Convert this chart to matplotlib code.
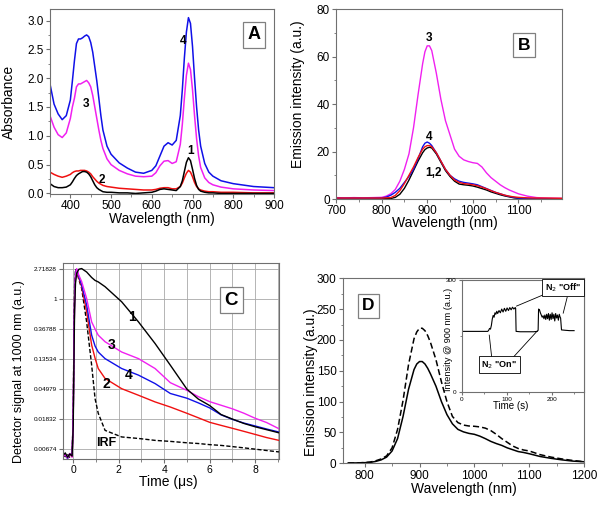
import matplotlib
matplotlib.use("Agg")
import matplotlib.pyplot as plt
from matplotlib.ticker import MultipleLocator, NullLocator, FixedLocator

plt.rcParams["font.family"] = ["Liberation Sans", "DejaVu Sans"]

SPINE = "#707070"
BLUE = "#1010e8"
MAGENTA = "#f020f0"
RED = "#f01010"

# ---- panel A: absorbance ----
wl_a = [350, 360, 370, 380, 390, 400, 405, 410, 415, 420, 425, 430, 435, 440, 445,
        450, 455, 460, 465, 470, 475, 480, 490, 500, 520, 540, 560, 580, 600, 610,
        620, 630, 640, 650, 660, 670, 675, 680, 685, 690, 695, 700, 705, 710, 715,
        720, 730, 740, 750, 770, 800, 850, 900]
abs_4 = [1.90, 1.55, 1.38, 1.28, 1.35, 1.62, 1.95, 2.30, 2.60, 2.68, 2.68, 2.70, 2.73, 2.75, 2.72,
         2.62, 2.45, 2.20, 1.95, 1.65, 1.35, 1.10, 0.82, 0.68, 0.53, 0.44, 0.37, 0.35, 0.40, 0.48,
         0.65, 0.82, 0.88, 0.84, 0.92, 1.35, 1.80, 2.35, 2.80, 3.05, 2.95, 2.55, 2.00, 1.50, 1.10,
         0.82, 0.52, 0.37, 0.30, 0.22, 0.17, 0.12, 0.10]
abs_3 = [1.35, 1.15, 1.02, 0.97, 1.05, 1.30, 1.50, 1.65, 1.85, 1.90, 1.90, 1.92, 1.94, 1.96, 1.92,
         1.85, 1.70, 1.50, 1.30, 1.10, 0.92, 0.78, 0.60, 0.50, 0.40, 0.34, 0.30, 0.29, 0.30, 0.36,
         0.48, 0.56, 0.57, 0.52, 0.55, 0.85, 1.20, 1.65, 2.05, 2.26, 2.15, 1.80, 1.35, 0.95, 0.65,
         0.45, 0.27, 0.19, 0.15, 0.11, 0.08, 0.06, 0.05]
abs_1 = [0.17, 0.12, 0.10, 0.10, 0.11, 0.15, 0.20, 0.26, 0.31, 0.34, 0.36, 0.38, 0.38, 0.37, 0.34,
         0.29, 0.22, 0.15, 0.10, 0.07, 0.05, 0.03, 0.02, 0.02, 0.01, 0.01, 0.00, 0.01, 0.02, 0.04,
         0.07, 0.08, 0.07, 0.06, 0.05, 0.12, 0.22, 0.38, 0.54, 0.62, 0.57, 0.42, 0.26, 0.14, 0.07,
         0.04, 0.02, 0.01, 0.01, 0.00, 0.00, 0.00, 0.00]
abs_2 = [0.37, 0.33, 0.30, 0.28, 0.30, 0.33, 0.36, 0.38, 0.39, 0.39, 0.40, 0.40, 0.40, 0.39, 0.37,
         0.34, 0.29, 0.25, 0.21, 0.18, 0.16, 0.14, 0.12, 0.11, 0.09, 0.08, 0.07, 0.06, 0.06, 0.07,
         0.09, 0.10, 0.10, 0.08, 0.08, 0.12, 0.18, 0.27, 0.35, 0.40, 0.37, 0.29, 0.19, 0.12, 0.08,
         0.06, 0.04, 0.03, 0.03, 0.02, 0.02, 0.01, 0.01]

# ---- panel B: emission ----
wl_b = [700, 720, 740, 760, 780, 800, 810, 820, 830, 840, 850, 860, 870, 880, 890, 895,
        900, 905, 910, 920, 930, 940, 950, 960, 970, 980, 990, 1000, 1010, 1020, 1030,
        1040, 1050, 1060, 1070, 1080, 1090, 1100, 1120, 1140, 1160, 1195]
em_3 = [0.6, 0.5, 0.6, 0.5, 0.6, 0.7, 1.2, 2.2, 4.0, 7.5, 12.5, 19.0, 30.0, 44.0, 57.0, 62.0,
        64.5, 64.5, 62.5, 53.0, 42.0, 33.0, 27.0, 21.0, 18.0, 16.5, 15.8, 15.3, 15.0, 13.5, 11.0,
        9.0, 7.5, 6.0, 4.8, 3.8, 3.0, 2.2, 1.2, 0.6, 0.4, 0.3]
em_4 = [0.3, 0.3, 0.3, 0.3, 0.3, 0.4, 0.8, 1.6, 2.8, 4.5, 7.0, 9.5, 12.5, 17.0, 22.0, 23.5,
        24.0, 23.5, 22.5, 19.5, 16.0, 12.5, 10.0, 8.5, 7.5, 7.0, 6.7, 6.4, 6.0, 5.2, 4.4,
        3.6, 2.8, 2.2, 1.6, 1.1, 0.7, 0.4, 0.2, 0.1, 0.1, 0.1]
em_2 = [0.4, 0.4, 0.4, 0.4, 0.4, 0.4, 0.5, 0.6, 1.5, 3.5, 6.5, 10.0, 13.5, 17.5, 21.0, 22.0,
        22.5, 22.5, 22.0, 19.5, 16.0, 12.5, 10.0, 8.0, 7.0, 6.5, 6.3, 6.0, 5.6, 5.0, 4.3,
        3.5, 2.8, 2.2, 1.6, 1.2, 0.9, 0.7, 0.5, 0.4, 0.4, 0.3]
em_1 = [0.2, 0.2, 0.2, 0.2, 0.2, 0.2, 0.2, 0.2, 0.7, 2.0, 4.5, 8.0, 12.0, 16.0, 19.5, 20.8,
        21.5, 21.8, 21.5, 19.0, 15.5, 12.0, 9.5, 7.5, 6.3, 6.0, 5.8, 5.5, 5.0, 4.4, 3.8,
        3.0, 2.4, 1.8, 1.3, 0.9, 0.5, 0.3, 0.1, 0.0, 0.0, 0.0]

# ---- panel C: decays at 1000 nm ----
t_c = [-0.45, -0.35, -0.25, -0.15, -0.05, 0.0, 0.03, 0.06, 0.1, 0.15, 0.25, 0.37, 0.59,
       0.81, 0.96, 1.1, 1.4, 2.13, 2.87, 3.6, 4.27, 5.0, 5.5, 6.0, 6.5, 7.0, 7.5, 8.0,
       8.5, 9.05]
dec_1 = [0.0055, 0.0060, 0.0052, 0.0058, 0.0054, 0.015, 0.12, 0.7, 1.7, 2.35, 2.7, 2.76, 2.46,
         2.05, 1.86, 1.77, 1.51, 0.914, 0.468, 0.228, 0.111, 0.050, 0.036, 0.029, 0.0215,
         0.0185, 0.016, 0.0143, 0.013, 0.0117]
dec_2 = [0.0052, 0.0058, 0.0050, 0.0057, 0.0053, 0.02, 0.2, 1.0, 2.1, 2.65, 2.0, 1.52, 0.657,
         0.217, 0.14, 0.0993, 0.0714, 0.0508, 0.0408, 0.0327, 0.0276, 0.0224, 0.0193, 0.0166,
         0.015, 0.0136, 0.0123, 0.0111, 0.0100, 0.0091]
dec_3 = [0.0053, 0.0057, 0.0051, 0.0059, 0.0052, 0.02, 0.2, 1.0, 2.2, 2.75, 2.2, 1.79, 1.02,
         0.468, 0.37, 0.301, 0.242, 0.172, 0.138, 0.0993, 0.062, 0.048, 0.039, 0.033, 0.0293,
         0.026, 0.0225, 0.019, 0.0165, 0.0134]
dec_4 = [0.0054, 0.0056, 0.0050, 0.0058, 0.0055, 0.02, 0.2, 1.0, 2.2, 2.7, 2.1, 1.60, 0.819,
         0.301, 0.21, 0.172, 0.138, 0.0993, 0.0797, 0.0602, 0.0433, 0.037, 0.0317, 0.0268,
         0.0213, 0.0183, 0.0162, 0.0147, 0.0133, 0.012]
dec_irf = [0.0055, 0.0053, 0.0058, 0.0051, 0.0056, 0.02, 0.3, 1.5, 2.7, 2.5, 1.9, 1.43, 0.468,
           0.111, 0.0365, 0.0224, 0.0127, 0.0102, 0.0097, 0.0091, 0.0088, 0.0084, 0.0082,
           0.0079, 0.0077, 0.0074, 0.0071, 0.0068, 0.0065, 0.0062]
c_ticks = [2.71828, 1, 0.36788, 0.13534, 0.04979, 0.01832, 0.00674]
c_ticklabels = ["2.71828", "1", "0.36788", "0.13534", "0.04979", "0.01832", "0.00674"]

# ---- panel D: emission under N2 ----
wl_d = [770, 780, 790, 800, 810, 820, 830, 840, 850, 860, 870, 880, 890, 895, 900, 905,
        910, 915, 920, 930, 940, 950, 960, 970, 980, 990, 1000, 1010, 1020, 1030, 1040,
        1050, 1060, 1070, 1080, 1090, 1100, 1120, 1140, 1160, 1180, 1200]
em_solid = [0.5, 0.5, 0.8, 1.0, 1.5, 3.0, 5.5, 10, 20, 40, 76, 120, 152, 161, 165, 165,
            161, 154, 145, 125, 100, 79, 64, 55, 51, 48.5, 47, 44, 40, 35.5, 32,
            29, 25, 22, 19, 17.5, 15.5, 11, 8, 5.5, 3.5, 2.5]
em_dash = [0.5, 0.5, 0.8, 1.2, 2.0, 4.0, 7.0, 12, 25, 55, 102, 160, 202, 213, 219, 219,
           215, 207, 196, 168, 132, 100, 76, 66, 62, 60.5, 60, 59, 57, 53, 47,
           40, 34, 28, 24, 21.5, 20, 14, 10, 7, 4.5, 2.5]

# inset: intensity at 900 nm vs time
t_in = [0, 10, 20, 30, 40, 50, 58, 60, 62, 64, 66, 68, 70, 72, 74, 76, 78, 80, 83, 86, 89,
        92, 95, 98, 101, 104, 107, 110, 113, 116, 119, 120, 121, 130, 140, 150, 160, 168,
        170, 171, 173, 175, 177, 179, 181, 183, 185, 187, 189, 191, 193, 195, 197, 199, 201,
        203, 205, 207, 209, 211, 213, 215, 217, 219, 220, 222, 230, 240, 250]
int_in = [162, 162, 162, 162, 162, 162, 162, 165, 170, 168, 178, 195, 205, 200, 212, 208, 216,
          210, 218, 212, 222, 214, 224, 216, 225, 218, 226, 220, 227, 222, 226, 224, 162, 161,
          161, 161, 161, 162, 165, 222, 220, 212, 206, 200, 204, 196, 206, 194, 208, 196, 210,
          192, 208, 194, 212, 196, 208, 190, 210, 198, 206, 192, 208, 200, 198, 166, 165, 164, 164]


def style_axes(ax, fs=8.5):
    for sp in ax.spines.values():
        sp.set_color(SPINE)
        sp.set_linewidth(0.8)
    ax.tick_params(which="both", direction="out", color=SPINE, labelsize=fs, pad=1.5)
    ax.tick_params(which="major", length=3)
    ax.tick_params(which="minor", length=1.8)


def panel_letter(ax, x, y, s, fs):
    ax.text(x, y, s, transform=ax.transAxes, ha="center", va="center",
            fontsize=fs, fontweight="bold",
            bbox=dict(boxstyle="square,pad=0.25", facecolor="white",
                      edgecolor="#808080", linewidth=0.9))


fig = plt.figure(figsize=(6.0, 5.05), dpi=100)

# A
ax = fig.add_axes([0.0833, 0.6158, 0.3733, 0.3664])
ax.plot(wl_a, abs_4, color=BLUE, lw=1.1)
ax.plot(wl_a, abs_3, color=MAGENTA, lw=1.1)
ax.plot(wl_a, abs_2, color=RED, lw=1.1)
ax.plot(wl_a, abs_1, color="black", lw=1.1)
ax.set_xlim(350, 900)
ax.set_ylim(-0.01, 3.2)
ax.xaxis.set_major_locator(FixedLocator([400, 500, 600, 700, 800, 900]))
ax.xaxis.set_minor_locator(MultipleLocator(50))
ax.yaxis.set_major_locator(MultipleLocator(0.5))
ax.yaxis.set_minor_locator(MultipleLocator(0.25))
ax.yaxis.set_major_formatter(plt.FormatStrFormatter("%.1f"))
style_axes(ax)
ax.set_ylabel("Absorbance", fontsize=10)
ax.set_xlabel("Wavelength (nm)", fontsize=10)
ax.yaxis.set_label_coords(-0.152, 0.5)
ax.xaxis.set_label_coords(0.5, -0.095)
for s, x, y in [("4", 676, 2.65), ("3", 439, 1.56), ("1", 694, 0.73), ("2", 478, 0.24)]:
    ax.text(x, y, s, ha="center", va="center", fontsize=8.5, fontweight="bold")
panel_letter(ax, 0.912, 0.861, "A", 13)

# B
ax = fig.add_axes([0.56, 0.6059, 0.3762, 0.3762])
ax.plot(wl_b, em_3, color=MAGENTA, lw=1.0)
ax.plot(wl_b, em_1, color="black", lw=1.0)
ax.plot(wl_b, em_4, color=BLUE, lw=1.0)
ax.plot(wl_b, em_2, color=RED, lw=1.0)
ax.set_xlim(700, 1195)
ax.set_ylim(0, 80)
ax.xaxis.set_major_locator(MultipleLocator(100))
ax.xaxis.set_minor_locator(MultipleLocator(50))
ax.yaxis.set_major_locator(MultipleLocator(20))
ax.yaxis.set_minor_locator(MultipleLocator(10))
style_axes(ax)
ax.set_ylabel("Emission intensity (a.u.)", fontsize=10)
ax.set_xlabel("Wavelength (nm)", fontsize=10)
ax.yaxis.set_label_coords(-0.137, 0.55)
ax.xaxis.set_label_coords(0.483, -0.092)
for s, x, y in [("3", 905, 68), ("4", 905, 26.2), ("1,2", 914, 10.8)]:
    ax.text(x, y, s, ha="center", va="center", fontsize=8.5, fontweight="bold")
panel_letter(ax, 0.833, 0.81, "B", 12.5)

# C
ax = fig.add_axes([0.105, 0.0911, 0.36, 0.3881])
ax.set_yscale("log")
ax.plot(t_c, dec_irf, color="black", lw=1.0, ls=(0, (3, 1.5)))
ax.plot(t_c, dec_2, color=RED, lw=1.0)
ax.plot(t_c, dec_4, color=BLUE, lw=1.0)
ax.plot(t_c, dec_3, color=MAGENTA, lw=1.0)
ax.plot(t_c, dec_1, color="black", lw=1.0)
ax.set_xlim(-0.45, 9.05)
ax.set_ylim(0.0049, 3.32)
ax.xaxis.set_major_locator(MultipleLocator(2))
ax.xaxis.set_minor_locator(MultipleLocator(1))
ax.yaxis.set_major_locator(FixedLocator(c_ticks))
ax.yaxis.set_minor_locator(NullLocator())
ax.set_yticklabels(c_ticklabels)
ax.grid(True, which="both", axis="x", color="#a8a8a8", lw=0.6)
ax.grid(True, which="major", axis="y", color="#a8a8a8", lw=0.6)
ax.set_axisbelow(True)
style_axes(ax, fs=7.5)
ax.tick_params(axis="y", labelsize=4.6)
ax.set_ylabel("Detector signal at 1000 nm (a.u.)", fontsize=9)
ax.set_xlabel("Time (μs)", fontsize=10)
ax.yaxis.set_label_coords(-0.176, 0.445)
ax.xaxis.set_label_coords(0.487, -0.08)
for s, x, y in [("1", 2.6, 0.55), ("3", 1.69, 0.217), ("4", 2.43, 0.0797),
                ("2", 1.47, 0.0602)]:
    ax.text(x, y, s, ha="center", va="center", fontsize=10, fontweight="bold")
ax.text(1.47, 0.0083, "IRF", ha="center", va="center", fontsize=9, fontweight="bold")
panel_letter(ax, 0.779, 0.811, "C", 13.5)

# D
ax = fig.add_axes([0.5712, 0.0826, 0.4022, 0.3663])
ax.plot(wl_d, em_dash, color="black", lw=1.1, ls=(0, (4, 2)))
ax.plot(wl_d, em_solid, color="black", lw=1.1)
ax.set_xlim(760, 1200)
ax.set_ylim(0, 300)
ax.xaxis.set_major_locator(MultipleLocator(100))
ax.xaxis.set_minor_locator(MultipleLocator(50))
ax.yaxis.set_major_locator(MultipleLocator(50))
ax.yaxis.set_minor_locator(MultipleLocator(25))
style_axes(ax)
ax.set_ylabel("Emission intensity (a.u.)", fontsize=10)
ax.set_xlabel("Wavelength (nm)", fontsize=10)
ax.yaxis.set_label_coords(-0.102, 0.441)
ax.xaxis.set_label_coords(0.503, -0.10)
panel_letter(ax, 0.106, 0.851, "D", 12.5)

# inset
ins = fig.add_axes([0.7695, 0.2244, 0.2038, 0.2211])
ins.plot(t_in, int_in, color="black", lw=0.8)
ins.set_xlim(0, 272)
ins.set_ylim(0, 300)
ins.xaxis.set_major_locator(MultipleLocator(100))
ins.xaxis.set_minor_locator(MultipleLocator(50))
ins.yaxis.set_major_locator(FixedLocator([0, 300]))
ins.yaxis.set_minor_locator(FixedLocator([150]))
style_axes(ins, fs=4.6)
ins.tick_params(which="major", length=2)
ins.tick_params(which="minor", length=1.2)
ins.set_ylabel("Intensity @ 900 nm (a.u.)", fontsize=6.6)
ins.set_xlabel("Time (s)", fontsize=7)
ins.yaxis.set_label_coords(-0.069, 0.47)
ins.xaxis.set_label_coords(0.4, -0.083)
box = dict(boxstyle="square,pad=0.3", facecolor="white", edgecolor="black", linewidth=0.6)
for (x0, y0), (x1, y1) in [((181, 260), (122, 230)), ((234.7, 254), (225.8, 211)),
                           ((66.7, 92.5), (61.3, 152)), ((114.7, 92.5), (168, 163))]:
    ins.plot([x0, x1], [y0, y1], color="black", lw=0.6)
ins.text(225.8, 280, 'N$_2$ "Off"', ha="center", va="center", fontsize=6.5,
         fontweight="bold", bbox=box)
ins.text(83.3, 72, 'N$_2$ "On"', ha="center", va="center", fontsize=6.5,
         fontweight="bold", bbox=box)

fig.savefig("out.png", dpi=100)
